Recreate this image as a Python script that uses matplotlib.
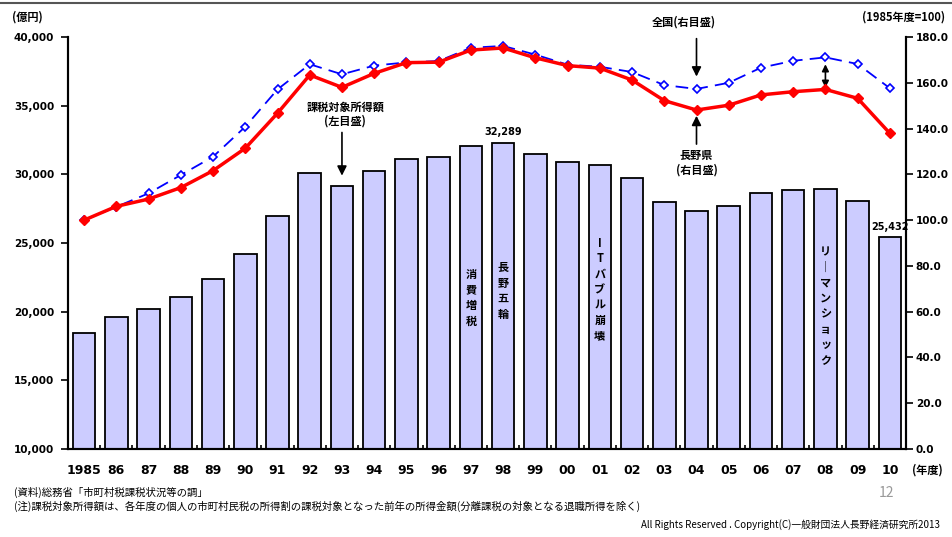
import matplotlib
matplotlib.use('Agg')
import matplotlib.pyplot as plt
from matplotlib.ticker import FuncFormatter, FixedLocator

plt.rcParams['font.family'] = ['Noto Sans CJK JP', 'DejaVu Sans']

# データ
years = ['1985', '86', '87', '88', '89', '90', '91', '92', '93', '94', '95', '96', '97',
         '98', '99', '00', '01', '02', '03', '04', '05', '06', '07', '08', '09', '10']
income = [18470, 19590, 20200, 21090, 22360, 24220, 26990, 30130, 29180, 30220, 31140,
          31270, 32070, 32289, 31490, 30880, 30680, 29740, 28010, 27330, 27700, 28620,
          28860, 28940, 28080, 25432]   # 課税対象所得額(億円)
zenkoku = [100.0, 105.8, 111.7, 119.7, 127.7, 140.8, 157.1, 168.1, 163.7, 167.5, 168.9,
           169.5, 175.3, 176.1, 172.3, 167.9, 167.0, 164.7, 159.0, 157.3, 160.0, 166.6,
           169.6, 171.1, 168.2, 157.6]
nagano = [100.0, 106.0, 109.2, 114.2, 121.6, 131.4, 146.7, 163.4, 158.0, 164.1, 168.8,
          169.0, 174.3, 175.2, 170.9, 167.5, 166.4, 161.2, 152.2, 148.1, 150.2, 154.7,
          156.1, 157.1, 153.2, 137.9]
events = [(12, '消費増税', 21000), (13, '長野五輪', 21500),
          (16, 'ITバブル崩壊', 21600), (23, 'リーマンショック', 20400)]

x = list(range(len(years)))

fig = plt.figure(figsize=(9.52, 5.37), dpi=100)
ax = fig.add_axes([68/952, 88/537, 838/952, 412/537])

ax.bar(x, income, width=0.7, color='#CCCCFF', edgecolor='black', linewidth=1.3, zorder=2)
ax.set_xlim(-0.5, len(years) - 0.5)
ax.set_ylim(10000, 40000)
ax.set_yticks(range(10000, 40001, 5000))
ax.yaxis.set_major_formatter(FuncFormatter(lambda v, p: '{:,.0f}'.format(v)))
ax.set_xticks(x)
ax.set_xticklabels(years, fontsize=9, fontfamily='DejaVu Sans', fontweight='bold')
ax.xaxis.set_minor_locator(FixedLocator([i + 0.5 for i in x[:-1]]))
ax.tick_params(axis='x', which='major', length=0, pad=11)
ax.tick_params(axis='x', which='minor', direction='in', length=3, width=1.2)
ax.tick_params(axis='y', length=5, width=1.2, pad=5, labelsize=7.5)
for lb in ax.get_yticklabels():
    lb.set_fontweight('bold')
    lb.set_fontfamily('DejaVu Sans')
ax.spines['top'].set_visible(False)
for s in ['left', 'right', 'bottom']:
    ax.spines[s].set_linewidth(1.5)

# 棒の中の縦書き
for i, t, yv in events:
    t2 = '\n'.join(['｜' if c == 'ー' else c for c in t])
    ax.text(i, yv, t2, ha='center', va='center', fontsize=8, fontweight='bold',
            linespacing=1.25, zorder=3)

ax.annotate('{:,}'.format(income[13]), (13, income[13]), xytext=(0, 4),
            textcoords='offset points', ha='center', va='bottom', fontsize=7,
            fontweight='bold', fontfamily='DejaVu Sans')
ax.annotate('{:,}'.format(income[25]), (25, income[25]), xytext=(0, 4),
            textcoords='offset points', ha='center', va='bottom', fontsize=7,
            fontweight='bold', fontfamily='DejaVu Sans')

ax.text(8.1, 34850, '課税対象所得額', ha='center', va='center', fontsize=8, fontweight='bold')
ax.text(8.1, 33900, '(左目盛)', ha='center', va='center', fontsize=8, fontweight='bold')
ax.annotate('', xy=(8, 29700), xytext=(8, 33250),
            arrowprops=dict(arrowstyle='-|>', color='black', lw=1.2, mutation_scale=14))

# 折れ線(右目盛)
ax2 = ax.twinx()
ax2.plot(x, zenkoku, color='blue', linestyle=(0, (7, 4)), linewidth=1.3, marker='D',
         markersize=4.5, markerfacecolor='white', markeredgecolor='blue', markeredgewidth=1.2,
         zorder=3)
ax2.plot(x, nagano, color='red', linewidth=2.5, marker='D', markersize=5,
         markerfacecolor='red', markeredgecolor='red', zorder=4)
ax2.set_ylim(0, 180)
ax2.set_yticks(range(0, 181, 20))
ax2.yaxis.set_major_formatter(FuncFormatter(lambda v, p: '{:.1f}'.format(v)))
ax2.tick_params(axis='y', length=5, width=1.2, pad=2, labelsize=7.5)
for lb in ax2.get_yticklabels():
    lb.set_fontweight('bold')
    lb.set_fontfamily('DejaVu Sans')
ax2.spines['top'].set_visible(False)
for s in ['left', 'right', 'bottom']:
    ax2.spines[s].set_linewidth(1.5)

ax2.text(18.6, 186.5, '全国(右目盛)', ha='center', va='center', fontsize=8, fontweight='bold')
ax2.annotate('', xy=(19, 161.5), xytext=(19, 180.5),
             arrowprops=dict(arrowstyle='-|>', color='black', lw=1.2, mutation_scale=14),
             annotation_clip=False)
ax2.text(19, 128.4, '長野県', ha='center', va='center', fontsize=8, fontweight='bold')
ax2.text(19, 121.9, '(右目盛)', ha='center', va='center', fontsize=8, fontweight='bold')
ax2.annotate('', xy=(19, 146.8), xytext=(19, 132),
             arrowprops=dict(arrowstyle='-|>', color='black', lw=1.2, mutation_scale=14))
ax2.annotate('', xy=(23, 169.3), xytext=(23, 156.6),
             arrowprops=dict(arrowstyle='<|-|>', color='black', lw=1.2, mutation_scale=10))

# 枠外のテキスト
fig.add_artist(plt.Line2D([0, 1], [1 - 3/537, 1 - 3/537], color='#555555', lw=1.5))
fig.text(12/952, 1 - 17/537, '(億円)', ha='left', va='center', fontsize=8, fontweight='bold')
fig.text(945/952, 1 - 17/537, '(1985年度=100)', ha='right', va='center', fontsize=8,
         fontweight='bold')
fig.text(912/952, 1 - 470/537, '(年度)', ha='left', va='center', fontsize=8, fontweight='bold')
fig.text(14/952, 1 - 492/537, '(資料)総務省「市町村税課税状況等の調」', ha='left', va='center',
         fontsize=7.5)
fig.text(14/952, 1 - 506/537,
         '(注)課税対象所得額は、各年度の個人の市町村民税の所得割の課税対象となった前年の所得金額(分離課税の対象となる退職所得を除く)',
         ha='left', va='center', fontsize=7.5)
fig.text(887/952, 1 - 493/537, '12', ha='center', va='center', fontsize=10, color='#999999')
fig.text(940/952, 1 - 525/537, 'All Rights Reserved . Copyright(C)一般財団法人長野経済研究所2013',
         ha='right', va='center', fontsize=7)

fig.savefig('out.png', dpi=100)
